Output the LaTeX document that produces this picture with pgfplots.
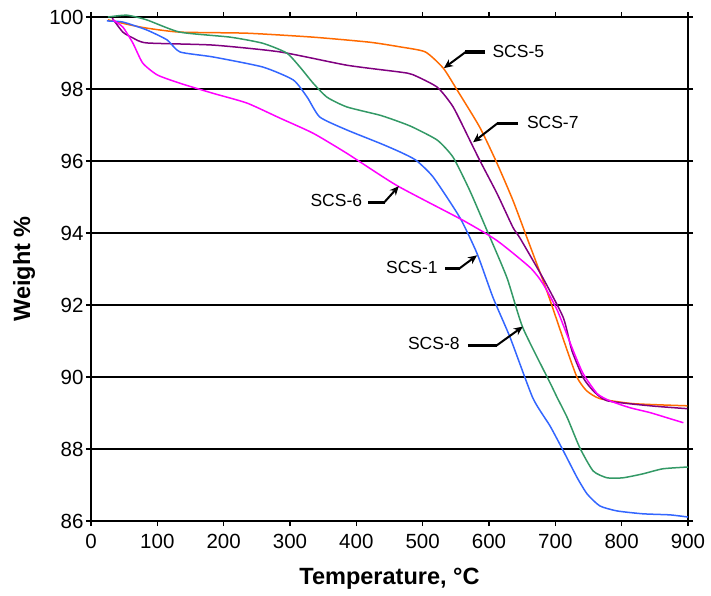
\documentclass[border=0pt]{standalone}
\usepackage{pgfplots}
\pgfplotsset{compat=1.18}
\usepackage{fontspec}
\setmainfont{Liberation Sans}
\usetikzlibrary{arrows.meta}
\definecolor{cOrange}{HTML}{FF6A00}
\definecolor{cPurple}{HTML}{800080}
\definecolor{cGreen}{HTML}{339966}
\definecolor{cBlue}{HTML}{3366FF}
\definecolor{cMagenta}{HTML}{FF00FF}
\begin{document}
\begin{tikzpicture}
\path[use as bounding box] (-91pt,-74pt) rectangle (620pt,521pt);
\begin{axis}[
  at={(0,0)}, anchor=south west,
  scale only axis, width=597pt, height=504pt,
  xmin=0, xmax=900, ymin=86, ymax=100,
  xtick={0,100,...,900}, ytick={86,88,...,100},
  ymajorgrids, grid style={black, line width=1.6pt},
  axis line style={black, line width=1.3pt},
  tick style={black, line width=1.3pt},
  tick align=outside, major tick length=5pt,
  /pgf/number format/assume math mode=true,
  ticklabel style={font=\fontsize{20.5}{23}\selectfont},
  xticklabel style={yshift=-5pt},
  yticklabel style={xshift=1pt},
  xlabel={\textbf{Temperature, °C}},
  ylabel={\textbf{Weight \%}},
  label style={font=\fontsize{23.5}{27}\selectfont},
  xlabel style={at={(axis description cs:0.5,-0.1151)}, anchor=center},
  ylabel style={at={(axis description cs:-0.1122,0.5)}, anchor=center},
  clip=false,
  every axis plot/.append style={line width=1.5pt, mark=none, smooth, tension=0.35},
]
% SCS-5 orange
\addplot[cOrange] coordinates {
(25.6,99.92) (58.8,99.78) (84.4,99.69) (134,99.58) (235,99.55) (335,99.44)
(420,99.30) (466,99.17) (504,99.03) (531,98.58) (552,97.97) (586,96.94) (612,95.94)
(636,94.91) (657,93.88) (687,92.40) (718,90.73) (733,89.98) (747,89.62)
(767,89.40) (817,89.26) (899,89.20)};
% SCS-7 purple
\addplot[cPurple] coordinates {
(32,99.97) (48,99.58) (63,99.42) (84,99.28) (184,99.22) (285,99.03)
(386,98.66) (466,98.47) (485,98.40) (522,98.05) (546,97.50) (571,96.58)
(586,96.02) (612,95.10) (636,94.16) (647,93.85) (681,92.76) (712,91.65)
(725,90.73) (742,89.98) (757,89.62) (778,89.34) (843,89.20) (899,89.12)};
% SCS-8 green
\addplot[cGreen] coordinates {
(25.6,100.0) (54,100.05) (84,99.92) (134,99.58) (210,99.44) (259,99.27)
(295,99.00) (315,98.61) (335,98.16) (356,97.77) (386,97.50) (436,97.27)
(466,97.08) (485,96.94) (522,96.58) (546,96.10) (571,95.18) (597,94.07)
(627,92.76) (651,91.37) (692,89.84) (703,89.42) (718,88.87) (737,88.03)
(757,87.39) (778,87.20) (802,87.20) (832,87.31) (862,87.45) (900,87.50)};
% SCS-1 blue
\addplot[cBlue] coordinates {
(24,99.89) (48,99.86) (84,99.64) (115,99.36) (134,99.03) (184,98.89)
(259,98.61) (305,98.25) (326,97.77) (345,97.22) (386,96.86) (436,96.49)
(466,96.25) (490,96.02) (516,95.55) (556,94.43) (582,93.43) (606,92.21)
(632,91.09) (666,89.42) (692,88.64) (712,87.95) (733,87.20) (748,86.75)
(767,86.42) (793,86.28) (832,86.20) (873,86.17) (900,86.11)};
% SCS-6 magenta
\addplot[cMagenta] coordinates {
(33,99.92) (48,99.72) (63,99.28) (78,98.72) (100,98.39) (134,98.16)
(184,97.88) (235,97.61) (285,97.19) (335,96.77) (386,96.21) (461,95.32)
(561,94.35) (612,93.79) (662,93.04) (681,92.60) (703,91.85) (727,90.73)
(742,90.09) (763,89.54) (782,89.34) (812,89.15) (843,89.01) (868,88.87)
(893,88.73)};
% annotations
\tikzset{lbl/.style={font=\fontsize{17.5}{20}\selectfont, inner sep=0pt},
         hseg/.style={line width=3.2pt, black},
         dseg/.style={line width=2pt, black, -{Stealth[length=9pt,width=8pt]}}}
\node[lbl, anchor=west] at (axis cs:605,99.03) {SCS-5};
\draw[hseg] (axis cs:594,99.03) -- (axis cs:564,99.03);
\draw[dseg] (axis cs:565,99.03) -- (axis cs:532,98.58);
\node[lbl, anchor=west] at (axis cs:657,97.08) {SCS-7};
\draw[hseg] (axis cs:644,97.05) -- (axis cs:612,97.05);
\draw[dseg] (axis cs:613,97.05) -- (axis cs:576,96.52);
\node[lbl, anchor=east] at (axis cs:409,94.91) {SCS-6};
\draw[hseg] (axis cs:418,94.85) -- (axis cs:443,94.85);
\draw[dseg] (axis cs:442,94.85) -- (axis cs:464,95.30);
\node[lbl, anchor=east] at (axis cs:523,93.04) {SCS-1};
\draw[hseg] (axis cs:534,93.01) -- (axis cs:556,93.01);
\draw[dseg] (axis cs:555,93.01) -- (axis cs:582,93.38);
\node[lbl, anchor=east] at (axis cs:556,90.93) {SCS-8};
\draw[hseg] (axis cs:568,90.87) -- (axis cs:612,90.87);
\draw[dseg] (axis cs:611,90.87) -- (axis cs:651,91.40);
\end{axis}
\end{tikzpicture}
\end{document}
